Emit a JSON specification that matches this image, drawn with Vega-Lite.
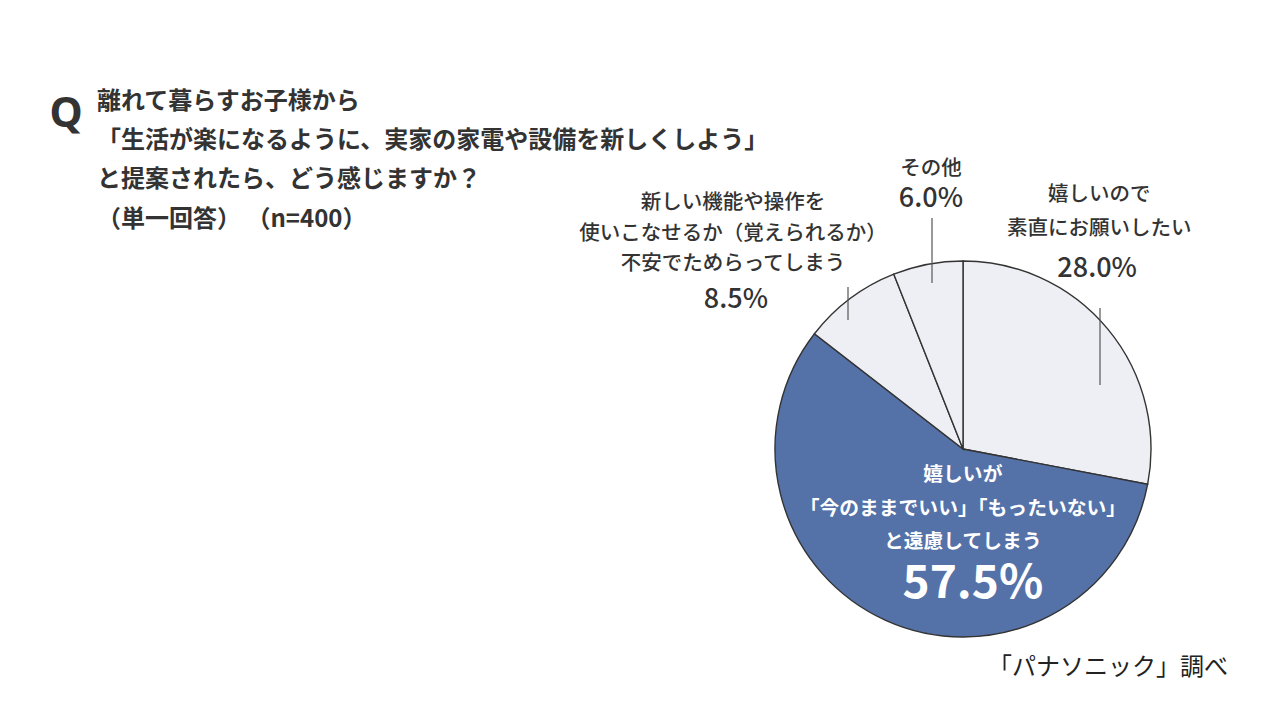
{
  "$schema": "https://vega.github.io/schema/vega-lite/v6.json",
  "width": 376,
  "height": 376,
  "autosize": {"type": "none"},
  "padding": {"left": 775, "top": 261, "right": 129, "bottom": 83},
  "background": "white",
  "config": {"font": "Noto Sans CJK JP", "view": {"stroke": null}},
  "data": {
    "values": [
      {"cat": "嬉しいので素直にお願いしたい", "lines": ["嬉しいので", "素直にお願いしたい"], "v": 28.0, "pct": "28.0%", "o": 1},
      {"cat": "嬉しいが「今のままでいい」「もったいない」と遠慮してしまう", "lines": ["嬉しいが", "「今のままでいい」「もったいない」", "と遠慮してしまう"], "v": 57.5, "pct": "57.5%", "o": 2},
      {"cat": "新しい機能や操作を使いこなせるか（覚えられるか）不安でためらってしまう", "lines": ["新しい機能や操作を", "使いこなせるか（覚えられるか）", "不安でためらってしまう"], "v": 8.5, "pct": "8.5%", "o": 3},
      {"cat": "その他", "lines": ["その他"], "v": 6.0, "pct": "6.0%", "o": 4}
    ]
  },
  "layer": [
    {
      "mark": {"type": "arc", "outerRadius": 188, "stroke": "#333333", "strokeWidth": 1.4},
      "encoding": {
        "theta": {"field": "v", "type": "quantitative", "stack": true},
        "order": {"field": "o", "type": "quantitative"},
        "color": {
          "field": "cat",
          "type": "nominal",
          "legend": null,
          "scale": {
            "domain": ["嬉しいので素直にお願いしたい", "嬉しいが「今のままでいい」「もったいない」と遠慮してしまう", "新しい機能や操作を使いこなせるか（覚えられるか）不安でためらってしまう", "その他"],
            "range": ["#eeeff4", "#5572a8", "#eeeff4", "#eeeff4"]
          }
        }
      }
    },
    {
      "mark": {"type": "text", "radius": 250, "dx": -56.5, "dy": -95, "fontSize": 20.5, "fontWeight": 500, "fill": "#333333", "lineHeight": 34, "align": "center", "baseline": "middle"},
      "encoding": {
        "theta": {"field": "v", "type": "quantitative", "stack": true},
        "order": {"field": "o", "type": "quantitative"},
        "text": {"condition": {"test": "datum.o === 1", "field": "lines"}, "value": ""}
      }
    },
    {
      "mark": {"type": "text", "radius": 250, "dx": -58.5, "dy": -21, "fontSize": 27, "fontWeight": 500, "fill": "#333333", "align": "center", "baseline": "middle"},
      "encoding": {
        "theta": {"field": "v", "type": "quantitative", "stack": true},
        "order": {"field": "o", "type": "quantitative"},
        "text": {"condition": {"test": "datum.o === 1", "field": "pct"}, "value": ""}
      }
    },
    {
      "mark": {"type": "text", "radius": 100, "dx": 41, "dy": -65, "fontSize": 19.8, "fontWeight": "bold", "fill": "white", "lineHeight": 33.5, "align": "center", "baseline": "middle"},
      "encoding": {
        "theta": {"field": "v", "type": "quantitative", "stack": true},
        "order": {"field": "o", "type": "quantitative"},
        "text": {"condition": {"test": "datum.o === 2", "field": "lines"}, "value": ""}
      }
    },
    {
      "mark": {"type": "text", "radius": 100, "dx": 51, "dy": 44, "fontSize": 46, "fontWeight": "bold", "fill": "white", "align": "center", "baseline": "middle"},
      "encoding": {
        "theta": {"field": "v", "type": "quantitative", "stack": true},
        "order": {"field": "o", "type": "quantitative"},
        "text": {"condition": {"test": "datum.o === 2", "field": "pct"}, "value": ""}
      }
    },
    {
      "mark": {"type": "text", "radius": 250, "dx": -80, "dy": -46, "fontSize": 20.5, "fontWeight": 500, "fill": "#333333", "lineHeight": 30.5, "align": "center", "baseline": "middle"},
      "encoding": {
        "theta": {"field": "v", "type": "quantitative", "stack": true},
        "order": {"field": "o", "type": "quantitative"},
        "text": {"condition": {"test": "datum.o === 3", "field": "lines"}, "value": ""}
      }
    },
    {
      "mark": {"type": "text", "radius": 250, "dx": -77, "dy": 51, "fontSize": 27, "fontWeight": 500, "fill": "#333333", "align": "center", "baseline": "middle"},
      "encoding": {
        "theta": {"field": "v", "type": "quantitative", "stack": true},
        "order": {"field": "o", "type": "quantitative"},
        "text": {"condition": {"test": "datum.o === 3", "field": "pct"}, "value": ""}
      }
    },
    {
      "mark": {"type": "text", "radius": 250, "dx": 14.8, "dy": -34.5, "fontSize": 20.5, "fontWeight": 500, "fill": "#333333", "align": "center", "baseline": "middle"},
      "encoding": {
        "theta": {"field": "v", "type": "quantitative", "stack": true},
        "order": {"field": "o", "type": "quantitative"},
        "text": {"condition": {"test": "datum.o === 4", "field": "lines"}, "value": ""}
      }
    },
    {
      "mark": {"type": "text", "radius": 250, "dx": 14.8, "dy": -4.5, "fontSize": 27, "fontWeight": 500, "fill": "#333333", "align": "center", "baseline": "middle"},
      "encoding": {
        "theta": {"field": "v", "type": "quantitative", "stack": true},
        "order": {"field": "o", "type": "quantitative"},
        "text": {"condition": {"test": "datum.o === 4", "field": "pct"}, "value": ""}
      }
    },
    {
      "data": {"values": [{}]},
      "mark": {"type": "rule", "stroke": "#555555", "strokeWidth": 1.2},
      "encoding": {"x": {"value": 325}, "y": {"value": 47}, "x2": {"value": 325}, "y2": {"value": 124}}
    },
    {
      "data": {"values": [{}]},
      "mark": {"type": "rule", "stroke": "#555555", "strokeWidth": 1.2},
      "encoding": {"x": {"value": 73}, "y": {"value": 26}, "x2": {"value": 73}, "y2": {"value": 59}}
    },
    {
      "data": {"values": [{}]},
      "mark": {"type": "rule", "stroke": "#555555", "strokeWidth": 1.2},
      "encoding": {"x": {"value": 157}, "y": {"value": -43}, "x2": {"value": 157}, "y2": {"value": 22}}
    },
    {
      "data": {"values": [{}]},
      "mark": {"type": "text", "text": ["離れて暮らすお子様から", "「生活が楽になるように、実家の家電や設備を新しくしよう」", "と提案されたら、どう感じますか？", "（単一回答） （n=400）"], "lineHeight": 39.2, "fontSize": 24, "fontWeight": "bold", "fill": "#333333", "align": "left", "baseline": "middle"},
      "encoding": {"x": {"value": -678}, "y": {"value": -159}}
    },
    {
      "data": {"values": [{}]},
      "mark": {"type": "text", "text": "Q", "fontSize": 42, "fontWeight": "bold", "fill": "#333333", "align": "center", "baseline": "middle", "font": "Noto Sans"},
      "encoding": {"x": {"value": -709}, "y": {"value": -147}}
    },
    {
      "data": {"values": [{}]},
      "mark": {"type": "text", "text": "「パナソニック」調べ", "fontSize": 24, "fontWeight": "normal", "fill": "#222222", "align": "right", "baseline": "middle"},
      "encoding": {"x": {"value": 453}, "y": {"value": 407}}
    }
  ]
}
